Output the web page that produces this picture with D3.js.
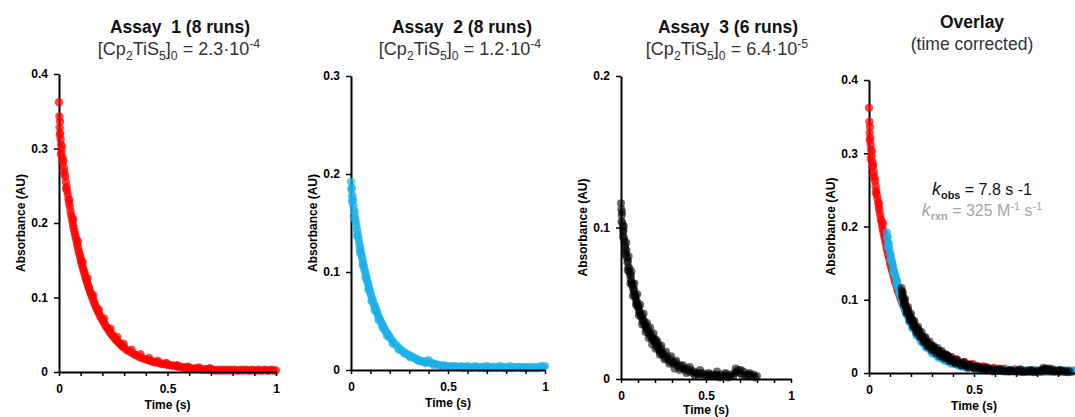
<!DOCTYPE html>
<html>
<head>
<meta charset="utf-8">
<script src="https://cdn.jsdelivr.net/npm/d3@7"></script>
<style>
  body { margin: 0; background: #fff; }
  svg { display: block; font-family: "Liberation Sans", Arial, sans-serif; }
  text { white-space: pre; }
</style>
</head>
<body>
<div id="chart"></div>
<script>
// Assay 1 (red) - [time (s), absorbance (AU)]
const assay1 = [
  [0,0.362],[0.002,0.343],[0.003,0.328],[0.005,0.336],[0.006,0.321],[0.008,0.312],[0.01,0.305],[0.012,0.296],
  [0.014,0.302],[0.016,0.288],[0.018,0.281],[0.02,0.284],[0.023,0.274],[0.026,0.266],[0.029,0.262],[0.032,0.255],
  [0.035,0.249],[0.038,0.243],[0.041,0.238],[0.044,0.232],[0.047,0.226],[0.05,0.222],[0.053,0.216],[0.056,0.211],
  [0.059,0.207],[0.062,0.202],[0.065,0.197],[0.068,0.193],[0.071,0.189],[0.074,0.185],[0.077,0.181],[0.08,0.177],
  [0.083,0.172],[0.086,0.169],[0.089,0.165],[0.092,0.161],[0.095,0.158],[0.098,0.154],[0.101,0.150],[0.104,0.147],
  [0.107,0.143],[0.11,0.140],[0.113,0.137],[0.116,0.134],[0.119,0.131],[0.122,0.127],[0.125,0.124],[0.128,0.122],
  [0.131,0.119],[0.134,0.116],[0.137,0.113],[0.14,0.111],[0.144,0.107],[0.148,0.104],[0.152,0.101],[0.156,0.098],
  [0.16,0.095],[0.164,0.092],[0.168,0.089],[0.172,0.086],[0.176,0.084],[0.18,0.081],[0.185,0.078],[0.19,0.075],
  [0.195,0.072],[0.2,0.070],[0.205,0.067],[0.21,0.065],[0.215,0.062],[0.22,0.060],[0.225,0.058],[0.23,0.056],
  [0.235,0.053],[0.24,0.051],[0.245,0.050],[0.25,0.048],[0.255,0.046],[0.26,0.044],[0.265,0.043],[0.27,0.041],
  [0.275,0.040],[0.28,0.038],[0.285,0.037],[0.29,0.035],[0.295,0.034],[0.3,0.033],[0.31,0.030],[0.32,0.028],
  [0.33,0.027],[0.34,0.025],[0.35,0.023],[0.36,0.022],[0.37,0.020],[0.38,0.019],[0.39,0.018],[0.4,0.017],
  [0.41,0.016],[0.42,0.015],[0.43,0.014],[0.44,0.013],[0.45,0.013],[0.46,0.012],[0.47,0.011],[0.48,0.011],
  [0.49,0.010],[0.5,0.010],[0.51,0.009],[0.52,0.009],[0.53,0.008],[0.54,0.008],[0.55,0.007],[0.56,0.007],
  [0.57,0.006],[0.58,0.006],[0.59,0.006],[0.6,0.005],[0.61,0.005],[0.62,0.004],[0.63,0.005],[0.64,0.004],
  [0.65,0.004],[0.66,0.003],[0.67,0.004],[0.68,0.003],[0.69,0.004],[0.7,0.003],[0.71,0.003],[0.72,0.002],
  [0.73,0.003],[0.74,0.002],[0.75,0.003],[0.76,0.002],[0.77,0.003],[0.78,0.002],[0.79,0.003],[0.8,0.002],
  [0.81,0.003],[0.82,0.002],[0.83,0.002],[0.84,0.003],[0.85,0.002],[0.86,0.003],[0.87,0.002],[0.88,0.002],
  [0.89,0.003],[0.9,0.002],[0.91,0.002],[0.92,0.003],[0.93,0.002],[0.94,0.002],[0.95,0.003],[0.96,0.002],
  [0.97,0.002],[0.98,0.003],[0.99,0.002],[1.0,0.002],
  [0.004,0.318],[0.009,0.292],[0.021,0.270],[0.033,0.246],[0.048,0.231],[0.066,0.205],[0.087,0.176],[0.109,0.148],
  [0.132,0.126],[0.158,0.103],[0.183,0.084],[0.208,0.072],[0.238,0.058],[0.268,0.047],[0.298,0.038],[0.335,0.030],
  [0.375,0.024],[0.415,0.019],[0.455,0.015],[0.495,0.012],[0.545,0.009],[0.595,0.007],[0.645,0.006],[0.695,0.005]
];

// Assay 2 (blue)
const assay2 = [
  [0,0.192],[0.002,0.184],[0.004,0.186],[0.006,0.178],[0.008,0.176],[0.01,0.173],[0.013,0.168],[0.016,0.163],
  [0.019,0.160],[0.022,0.155],[0.025,0.151],[0.028,0.147],[0.031,0.143],[0.034,0.139],[0.037,0.136],[0.04,0.133],
  [0.043,0.129],[0.046,0.126],[0.049,0.123],[0.052,0.119],[0.055,0.117],[0.058,0.114],[0.061,0.111],[0.064,0.108],
  [0.067,0.105],[0.07,0.102],[0.073,0.100],[0.076,0.097],[0.079,0.095],[0.082,0.092],[0.085,0.090],[0.088,0.088],
  [0.091,0.085],[0.094,0.083],[0.097,0.081],[0.1,0.078],[0.104,0.076],[0.108,0.073],[0.112,0.071],[0.116,0.068],
  [0.12,0.066],[0.124,0.064],[0.128,0.062],[0.132,0.060],[0.136,0.058],[0.14,0.055],[0.145,0.053],[0.15,0.051],
  [0.155,0.049],[0.16,0.047],[0.165,0.045],[0.17,0.043],[0.175,0.041],[0.18,0.039],[0.185,0.038],[0.19,0.036],
  [0.195,0.035],[0.2,0.033],[0.21,0.031],[0.22,0.028],[0.23,0.026],[0.24,0.024],[0.25,0.022],[0.26,0.020],
  [0.27,0.019],[0.28,0.017],[0.29,0.016],[0.3,0.015],[0.31,0.014],[0.32,0.013],[0.33,0.012],[0.34,0.011],
  [0.35,0.010],[0.36,0.009],[0.37,0.009],[0.38,0.008],[0.39,0.009],[0.4,0.010],[0.41,0.007],[0.42,0.007],
  [0.43,0.006],[0.44,0.006],[0.45,0.005],[0.46,0.005],[0.47,0.004],[0.48,0.005],[0.49,0.004],[0.5,0.004],
  [0.51,0.003],[0.52,0.004],[0.53,0.003],[0.54,0.004],[0.55,0.003],[0.56,0.003],[0.57,0.004],[0.58,0.002],
  [0.59,0.003],[0.6,0.004],[0.61,0.003],[0.62,0.002],[0.63,0.003],[0.64,0.004],[0.65,0.003],[0.66,0.002],
  [0.67,0.003],[0.68,0.003],[0.69,0.002],[0.7,0.004],[0.71,0.003],[0.72,0.002],[0.73,0.003],[0.74,0.003],
  [0.75,0.002],[0.76,0.003],[0.77,0.004],[0.78,0.002],[0.79,0.003],[0.8,0.002],[0.81,0.003],[0.82,0.004],
  [0.83,0.002],[0.84,0.003],[0.85,0.002],[0.86,0.003],[0.87,0.003],[0.88,0.002],[0.89,0.003],[0.9,0.002],
  [0.91,0.003],[0.92,0.002],[0.93,0.003],[0.94,0.002],[0.95,0.003],[0.96,0.002],[0.97,0.003],[0.98,0.004],
  [0.99,0.003],[1.0,0.004],
  [0.005,0.172],[0.017,0.154],[0.03,0.137],[0.045,0.121],[0.06,0.107],[0.075,0.094],[0.09,0.082],[0.106,0.070],
  [0.122,0.061],[0.142,0.051],[0.162,0.043],[0.185,0.035],[0.215,0.027],[0.245,0.021],[0.275,0.017],[0.305,0.013],
  [0.345,0.010],[0.385,0.007],[0.425,0.005],[0.465,0.004]
];

// Assay 3 (black)
const assay3 = [
  [0,0.116],[0.002,0.112],[0.004,0.108],[0.006,0.110],[0.008,0.103],[0.01,0.100],[0.012,0.097],[0.015,0.098],
  [0.018,0.093],[0.02,0.091],[0.023,0.088],[0.026,0.086],[0.029,0.083],[0.032,0.085],[0.035,0.080],[0.038,0.077],
  [0.041,0.078],[0.044,0.074],[0.047,0.071],[0.05,0.073],[0.053,0.069],[0.056,0.066],[0.059,0.068],[0.062,0.064],
  [0.065,0.062],[0.068,0.063],[0.071,0.060],[0.074,0.058],[0.077,0.059],[0.08,0.056],[0.083,0.054],[0.086,0.055],
  [0.089,0.052],[0.092,0.050],[0.095,0.051],[0.098,0.048],[0.101,0.047],[0.104,0.048],[0.107,0.045],[0.11,0.044],
  [0.114,0.043],[0.118,0.041],[0.122,0.042],[0.126,0.039],[0.13,0.038],[0.134,0.039],[0.138,0.036],[0.142,0.035],
  [0.146,0.036],[0.15,0.033],[0.155,0.032],[0.16,0.033],[0.165,0.030],[0.17,0.029],[0.175,0.030],[0.18,0.027],
  [0.185,0.026],[0.19,0.027],[0.195,0.025],[0.2,0.024],[0.205,0.026],[0.21,0.022],[0.215,0.021],[0.22,0.023],
  [0.225,0.019],[0.23,0.018],[0.235,0.020],[0.24,0.017],[0.245,0.016],[0.25,0.017],[0.26,0.014],[0.27,0.015],
  [0.28,0.012],[0.29,0.013],[0.3,0.011],[0.31,0.010],[0.32,0.011],[0.33,0.009],[0.34,0.008],[0.35,0.009],
  [0.36,0.007],[0.37,0.007],[0.38,0.006],[0.39,0.007],[0.4,0.005],[0.41,0.006],[0.42,0.004],[0.43,0.005],
  [0.44,0.004],[0.45,0.003],[0.46,0.004],[0.47,0.003],[0.48,0.004],[0.49,0.002],[0.5,0.003],[0.51,0.002],
  [0.52,0.003],[0.53,0.002],[0.54,0.003],[0.55,0.002],[0.56,0.003],[0.57,0.002],[0.58,0.001],[0.59,0.003],
  [0.6,0.002],[0.61,0.002],[0.62,0.003],[0.63,0.001],[0.64,0.002],[0.65,0.003],[0.66,0.002],[0.67,0.004],
  [0.68,0.005],[0.69,0.006],[0.7,0.004],[0.71,0.003],[0.72,0.005],[0.73,0.002],[0.74,0.003],[0.75,0.002],
  [0.76,0.003],[0.77,0.002],[0.78,0.003],[0.79,0.001],[0.8,0.002],
  [0.003,0.104],[0.011,0.094],[0.017,0.101],[0.025,0.082],[0.031,0.090],[0.039,0.072],[0.045,0.081],[0.055,0.063],
  [0.061,0.071],[0.07,0.055],[0.079,0.063],[0.088,0.049],[0.096,0.056],[0.105,0.042],[0.113,0.049],[0.124,0.036],
  [0.133,0.043],[0.144,0.031],[0.153,0.037],[0.163,0.027],[0.172,0.034],[0.183,0.023],[0.192,0.030],[0.203,0.020],
  [0.213,0.025],[0.228,0.016],[0.238,0.022],[0.255,0.013],[0.265,0.018],[0.285,0.010],[0.295,0.015],[0.315,0.007],
  [0.325,0.012],[0.345,0.006],[0.365,0.009],[0.385,0.004],[0.405,0.008],[0.435,0.002],[0.465,0.006],[0.515,0.004],
  [0.565,0.005],[0.615,0.004],[0.675,0.007],[0.705,0.006],[0.755,0.004]
];

// time shift of each assay in the overlay panel
const overlayShift = [0, 0.085, 0.155];

const seriesColors = ["#ff0000", "#1cb0e8", "#000000"];
const seriesOpacity = [0.72, 0.72, 0.58];

const xTicks = [0, 0.1, 0.2, 0.3, 0.4, 0.5, 0.6, 0.7, 0.8, 0.9, 1];
const xTickLabels = [0, 0.5, 1];

const titles = ["Assay  1 (8 runs)", "Assay  2 (8 runs)", "Assay  3 (6 runs)", "Overlay"];
const concentrations = ["2.3·10", "1.2·10", "6.4·10"];
const concExponents = ["-4", "-4", "-5"];

var width = 1075, height = 417;

var svg = d3.select("#chart")
   .append("svg")
   .attr("width", width)
   .attr("height", height);

// panel layout (pixel boxes)
var panels = [
   { left: 59,  right: 276,  top: 74, bottom: 372, yMax: 0.4, yTicks: [0, 0.1, 0.2, 0.3, 0.4], titleX: 180, subX: 179, series: [0] },
   { left: 351, right: 545,  top: 76, bottom: 370, yMax: 0.3, yTicks: [0, 0.1, 0.2, 0.3], titleX: 462, subX: 460, series: [1] },
   { left: 621, right: 791,  top: 76, bottom: 379, yMax: 0.2, yTicks: [0, 0.1, 0.2], titleX: 728, subX: 727, series: [2] },
   { left: 869, right: 1079, top: 80, bottom: 373, yMax: 0.4, yTicks: [0, 0.1, 0.2, 0.3, 0.4], titleX: 972, subX: 972, series: [0, 1, 2], overlay: true }
];

var allData = [assay1, assay2, assay3];

// writes text made of parts: [string, mode] (mode: sub, sup, subb, i)
function richText(parent, x, y, parts, base, fill) {
   var t = parent.append("text")
      .attr("x", x)
      .attr("y", y)
      .attr("text-anchor", "middle")
      .attr("font-size", base)
      .attr("fill", fill);
   var shift = 0;
   parts.forEach(function (p) {
      var mode = p[1] || "";
      var off = 0;
      var ts = t.append("tspan").text(p[0]);
      if (mode === "sub" || mode === "subb") {
         off = base * 0.28;
         ts.attr("font-size", base * 0.68);
      }
      if (mode === "sup") {
         off = -base * 0.38;
         ts.attr("font-size", base * 0.68);
      }
      if (mode === "subb") ts.attr("font-weight", "bold");
      if (mode === "i") ts.attr("font-style", "italic").attr("font-size", base * 1.12);
      ts.attr("dy", off - shift);
      shift = off;
   });
   return t;
}

function drawPanel(p, idx) {
   var xScale = d3.scaleLinear().domain([0, 1]).range([p.left, p.right]);
   var yScale = d3.scaleLinear().domain([0, p.yMax]).range([p.bottom, p.top]);

   // Y axis
   var yAxis = svg.append("g")
      .attr("class", "axis")
      .attr("transform", "translate(" + p.left + ",0)")
      .call(d3.axisLeft(yScale).tickValues(p.yTicks).tickSize(5).tickSizeOuter(0).tickPadding(6)
         .tickFormat(function (d) { return String(d); }));

   // points
   p.series.forEach(function (s) {
      var shift = p.overlay ? overlayShift[s] : 0;
      svg.append("g")
         .selectAll("circle")
         .data(allData[s])
         .enter().append("circle")
         .attr("cx", function (d) { return xScale(d[0] + shift); })
         .attr("cy", function (d) { return yScale(d[1]); })
         .attr("r", s === 2 ? 4 : 4.2)
         .attr("fill", seriesColors[s])
         .attr("fill-opacity", seriesOpacity[s]);
   });

   // X axis (the overlay's "1" falls outside the picture)
   var labels = p.overlay ? [0, 0.5] : xTickLabels;
   var xAxis = svg.append("g")
      .attr("class", "axis")
      .attr("transform", "translate(0," + p.bottom + ")")
      .call(d3.axisBottom(xScale).tickValues(xTicks).tickSize(4).tickSizeOuter(0).tickPadding(8)
         .tickFormat(function (d) { return labels.indexOf(d) >= 0 ? String(d) : ""; }));

   [xAxis, yAxis].forEach(function (ax) {
      ax.attr("font-family", null).attr("font-size", null);
      ax.select(".domain").attr("stroke", "#000").attr("stroke-width", 2);
      ax.selectAll(".tick line").attr("stroke", "#000").attr("stroke-width", 1.5);
      ax.selectAll("text")
         .attr("fill", "#000")
         .attr("font-size", 12)
         .attr("font-weight", "bold");
   });

   // axis titles
   svg.append("text")
      .attr("transform", "translate(" + (p.left - 38) + "," + ((p.top + p.bottom) / 2) + ") rotate(-90)")
      .attr("text-anchor", "middle")
      .attr("dy", "0.35em")
      .attr("font-size", 12)
      .attr("font-weight", "bold")
      .attr("fill", "#000")
      .text("Absorbance (AU)");

   svg.append("text")
      .attr("x", (p.left + p.right) / 2)
      .attr("y", Math.min(p.bottom + 37, 414))
      .attr("text-anchor", "middle")
      .attr("font-size", 12)
      .attr("font-weight", "bold")
      .attr("fill", "#000")
      .text("Time (s)");

   // title
   svg.append("text")
      .attr("x", p.titleX)
      .attr("y", p.overlay ? 28 : 33)
      .attr("text-anchor", "middle")
      .attr("font-size", 17.5)
      .attr("font-weight", "bold")
      .attr("fill", "#111")
      .text(titles[idx]);

   if (p.overlay) {
      svg.append("text")
         .attr("x", p.subX)
         .attr("y", 50)
         .attr("text-anchor", "middle")
         .attr("font-size", 17.5)
         .attr("fill", "#333")
         .text("(time corrected)");
   } else {
      richText(svg, p.subX, 55, [
         ["[Cp"], ["2", "sub"], ["TiS"], ["5", "sub"], ["]"], ["0", "sub"],
         [" = " + concentrations[idx]], [concExponents[idx], "sup"]
      ], 18, "#333");
   }
}

panels.forEach(drawPanel);

// rate constants on the overlay
richText(svg, 982, 195, [["k", "i"], ["obs", "subb"], [" = 7.8 s -1"]], 16, "#111");
richText(svg, 982, 216, [["k", "i"], ["rxn", "subb"], [" = 325 M"], ["-1", "sup"], [" s"], ["-1", "sup"]], 16, "#a6a6a6");
</script>
</body>
</html>
